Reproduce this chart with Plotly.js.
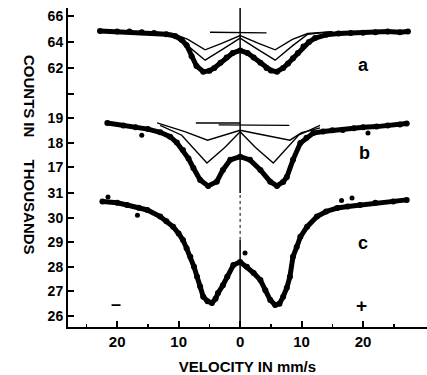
<!DOCTYPE html>
<html><head>
<script src="https://cdn.plot.ly/plotly-3.0.1.min.js"></script>
<style>html,body{margin:0;padding:0;background:#fff}#chart{width:427px;height:375px}</style>
</head><body><div id="chart"></div>
<script>
// ---- panel a (top) ----
const velA = [-22.8,-20,-18,-16,-14,-12,-10.5,-9.5,-8.7,-7.9,-7.1,-6,-5,-4.2,-3.2,-2.2,-1.2,0,1.2,2.2,3.3,4.3,5,6,7,7.8,8.6,9.4,10.3,11.2,12.2,14,16,18,20,22,24,26,27.3];
const cntA = [64.85,64.8,64.8,64.75,64.7,64.6,64.45,64.15,63.75,62.9,62.15,61.72,61.78,62.0,62.4,62.8,63.15,63.35,63.15,62.8,62.4,62.0,61.8,61.72,62.0,62.35,62.75,63.15,63.65,64.0,64.3,64.55,64.65,64.7,64.72,64.75,64.8,64.75,64.8];
const velAcomp = [-15,-11,-8.5,-5.7,-3,0,3,5.7,8.5,11,15];
const compA1 = [64.8,64.65,64.2,63.4,63.9,64.5,63.9,63.4,64.2,64.65,64.8];
const compA2 = [64.8,64.6,63.7,62.6,63.4,64.3,63.4,62.6,63.7,64.6,64.8];
const velAhat = [-4.9,4.3];
const compAhat = [64.75,64.7];

// ---- panel b (middle) ----
const velB = [-21.6,-19,-17,-15,-13,-11.4,-10.3,-9.3,-8.4,-7.6,-6.5,-5.2,-3.8,-2.8,-1.6,0,1.6,3.3,4.9,6,7,7.6,8.6,9.8,10.8,11.9,13.5,15,16.7,18.5,20,22.2,24,26,27.1];
const cntB = [18.8,18.7,18.62,18.55,18.42,18.24,18.0,17.7,17.35,16.97,16.48,16.24,16.41,16.89,17.3,17.43,17.3,16.89,16.41,16.24,16.4,16.6,17.3,17.98,18.2,18.39,18.45,18.5,18.51,18.58,18.62,18.65,18.7,18.74,18.78];
const velBdeep = [-13,-9.5,-5.4,-2.5,0,2.5,5.4,9.5,13];
const compBdeep = [18.7,18.3,17.17,17.8,18.44,17.8,17.17,18.3,18.7];
const velBshal = [-13.5,-9,-5.3,-2.5,0,3,6,8.1,10,13];
const compBshal = [18.8,18.45,18.1,18.3,18.5,18.35,18.2,18.1,18.4,18.6];
const velBhat1 = [-7.2,0], compBhat1 = [18.8,18.8];
const velBhat2 = [-3.5,8], compBhat2 = [18.72,18.7];
const velBout = [-16,20.8];
const cntBout = [18.3,18.39];

// ---- panel c (bottom) ----
const velC = [-22.4,-20,-18.4,-16.5,-15.1,-13,-12,-10.9,-10,-9.3,-8.7,-8.1,-7.5,-7,-6.5,-6,-5.3,-4.6,-4,-3.6,-2.8,-2.1,-1.1,0,1.1,2.2,3.3,4.1,4.9,5.7,6.4,7,7.6,8.1,8.6,9.2,9.8,10.9,12.5,14,15.8,17.5,19.5,22,24.9,27.1];
const cntC = [30.65,30.6,30.51,30.4,30.31,30.04,29.85,29.63,29.35,29.09,28.75,28.41,28.0,27.6,27.2,26.78,26.6,26.53,26.7,26.93,27.25,27.6,28.07,28.2,28.0,27.75,27.46,27.05,26.65,26.45,26.5,26.78,27.15,27.6,28.41,28.8,29.22,29.63,30.04,30.25,30.39,30.45,30.51,30.6,30.65,30.72];
const velCout = [-21.5,-16.7,0.8,16.5,18.2];
const cntCout = [30.84,30.1,28.56,30.7,30.8];

// ---- ticks ----
const xTickVals = [-20,-10,0,10,20];
const xTickText = ['20','10','0','10','20'];
const xMinorVals = [-25,-15,-5,5,15,25];
const aTickVals = [60,62,64,66], aTickText = ['','62','64','66'];
const bTickVals = [17,18,19], bTickText = ['17','18','19'];
const cTickVals = [26,27,28,29,30,31], cTickText = ['26','27','28','29','30','31'];

const FONT = 'Liberation Sans, Arial, sans-serif';
const thin = {color:'#000', width:1.4};
const thick = {color:'#000', width:5};
const dots = {color:'#000', size:6};
const traces = [
  {x:velAcomp, y:compA1, yaxis:'y3', mode:'lines', line:thin},
  {x:velAcomp, y:compA2, yaxis:'y3', mode:'lines', line:thin},
  {x:velAhat, y:compAhat, yaxis:'y3', mode:'lines', line:thin},
  {x:velA, y:cntA, yaxis:'y3', mode:'lines+markers', line:thick, marker:dots},
  {x:velBdeep, y:compBdeep, yaxis:'y2', mode:'lines', line:thin},
  {x:velBshal, y:compBshal, yaxis:'y2', mode:'lines', line:thin},
  {x:velBhat1, y:compBhat1, yaxis:'y2', mode:'lines', line:thin},
  {x:velBhat2, y:compBhat2, yaxis:'y2', mode:'lines', line:thin},
  {x:velB, y:cntB, yaxis:'y2', mode:'lines+markers', line:thick, marker:dots},
  {x:velBout, y:cntBout, yaxis:'y2', mode:'markers', marker:{color:'#000',size:5}},
  {x:velC, y:cntC, yaxis:'y', mode:'lines+markers', line:thick, marker:dots},
  {x:velCout, y:cntCout, yaxis:'y', mode:'markers', marker:{color:'#000',size:5}}
];

const yCommon = {showline:true, linecolor:'#000', linewidth:2, ticks:'inside', ticklen:6, tickwidth:2, tickcolor:'#000',
  showgrid:false, zeroline:false, tickfont:{family:FONT, size:14, color:'#000', weight:'bold'}, fixedrange:true};

const layout = {
  width:427, height:375,
  margin:{l:68, r:0, t:8, b:48},
  paper_bgcolor:'#fff', plot_bgcolor:'#fff',
  showlegend:false,
  xaxis:{range:[-28,30.4], showline:true, linecolor:'#000', linewidth:2, ticks:'inside', ticklen:6, tickwidth:2, tickcolor:'#000',
    tickvals:xTickVals, ticktext:xTickText, showgrid:false, zeroline:false,
    minor:{ticks:'inside', ticklen:3, tickwidth:1.5, tickcolor:'#000', tickvals:xMinorVals, showgrid:false},
    tickfont:{family:FONT, size:15, color:'#000', weight:'bold'},
    title:{text:'VELOCITY IN mm/s', font:{family:FONT, size:15, color:'#000', weight:'bold'}, standoff:13}},
  yaxis: Object.assign({}, yCommon, {range:[25.553,38.52], tickvals:cTickVals, ticktext:cTickText}),
  yaxis2: Object.assign({}, yCommon, {range:[10.504,23.472], tickvals:bTickVals, ticktext:bTickText, overlaying:'y', side:'left', anchor:'x'}),
  yaxis3: Object.assign({}, yCommon, {range:[42.08,66.615], tickvals:aTickVals, ticktext:aTickText, overlaying:'y', side:'left', anchor:'x'}),
  shapes:[
    {type:'line', xref:'x', yref:'paper', x0:0, x1:0, y0:0.42, y1:1, line:{color:'#000', width:1.5}},
    {type:'line', xref:'x', yref:'paper', x0:0, x1:0, y0:0.273, y1:0.42, line:{color:'#000', width:1, dash:'dot'}},
    {type:'line', xref:'x', yref:'paper', x0:0, x1:0, y0:0, y1:0.273, line:{color:'#000', width:1.5}}
  ],
  annotations:[
    {text:'a', x:20, y:62.23, xref:'x', yref:'y3', showarrow:false, font:{family:FONT, size:18, color:'#000', weight:'bold'}},
    {text:'b', x:20.3, y:17.58, xref:'x', yref:'y2', showarrow:false, font:{family:FONT, size:18, color:'#000', weight:'bold'}},
    {text:'c', x:20, y:28.97, xref:'x', yref:'y', showarrow:false, font:{family:FONT, size:18, color:'#000', weight:'bold'}},
    {text:'\u2013', x:-20.2, y:26.49, xref:'x', yref:'y', showarrow:false, font:{family:FONT, size:18, color:'#000', weight:'bold'}},
    {text:'+', x:19.8, y:26.41, xref:'x', yref:'y', showarrow:false, font:{family:FONT, size:19, color:'#000', weight:'bold'}},
    {text:'COUNTS', x:-0.1365, y:0.859, xref:'paper', yref:'paper', textangle:90, showarrow:false, font:{family:FONT, size:15, color:'#000', weight:'bold'}},
    {text:'IN', x:-0.1365, y:0.618, xref:'paper', yref:'paper', textangle:90, showarrow:false, font:{family:FONT, size:15, color:'#000', weight:'bold'}},
    {text:'THOUSANDS', x:-0.1365, y:0.376, xref:'paper', yref:'paper', textangle:90, showarrow:false, font:{family:FONT, size:15, color:'#000', weight:'bold'}}
  ]
};
Plotly.newPlot('chart', traces, layout, {staticPlot:true, displayModeBar:false});
</script></body></html>
